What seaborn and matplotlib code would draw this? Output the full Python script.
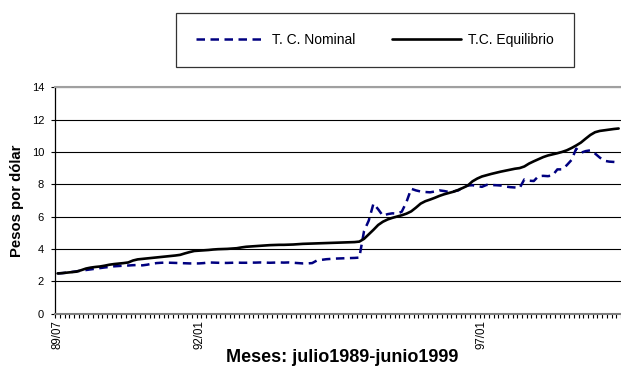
import numpy as np
import pandas as pd
import matplotlib
matplotlib.use("Agg")
import matplotlib.pyplot as plt
import seaborn as sns

# ---- data (monthly, julio 1989 - junio 1999) ----
months = pd.period_range("1989-07", "1999-06", freq="M")
month_labels = [p.strftime("%y/%m") for p in months]
shown_labels = ["89/07", "92/01", "97/01"]

tc_nominal = [
    2.48, 2.50, 2.53, 2.57, 2.61, 2.65, 2.69, 2.73, 2.77, 2.81, 2.85, 2.88,
    2.92, 2.94, 2.96, 2.97, 2.99, 3.00, 2.98, 3.02, 3.08, 3.12, 3.14, 3.15,
    3.14, 3.13, 3.12, 3.11, 3.10, 3.10, 3.10, 3.12, 3.16, 3.15, 3.14, 3.13,
    3.13, 3.14, 3.15, 3.14, 3.14, 3.15, 3.15, 3.16, 3.15, 3.14, 3.15, 3.16,
    3.15, 3.16, 3.14, 3.12, 3.10, 3.10, 3.12, 3.28, 3.32, 3.36, 3.38, 3.40,
    3.41, 3.42, 3.43, 3.44, 3.46, 5.10, 5.75, 6.80, 6.45, 6.05, 6.15, 6.20,
    6.18, 6.30, 6.90, 7.72, 7.62, 7.55, 7.52, 7.50, 7.55, 7.62, 7.58, 7.52,
    7.56, 7.62, 7.82, 7.92, 7.94, 7.88, 7.84, 7.96, 7.95, 7.94, 7.92, 7.86,
    7.82, 7.80, 7.77, 8.30, 8.22, 8.20, 8.50, 8.52, 8.50, 8.55, 8.92, 8.92,
    9.18, 9.50, 10.20, 9.95, 10.05, 10.10, 9.90, 9.65, 9.45, 9.40, 9.38, 9.35,
]
tc_equilibrio = [
    2.48, 2.50, 2.53, 2.56, 2.59, 2.68, 2.78, 2.84, 2.88, 2.91, 2.96, 3.02,
    3.06, 3.09, 3.12, 3.16, 3.28, 3.35, 3.38, 3.41, 3.44, 3.47, 3.50, 3.53,
    3.56, 3.59, 3.63, 3.72, 3.80, 3.87, 3.89, 3.91, 3.93, 3.96, 3.98, 3.99,
    4.00, 4.02, 4.04, 4.09, 4.13, 4.15, 4.17, 4.19, 4.21, 4.23, 4.24, 4.25,
    4.25, 4.26, 4.27, 4.29, 4.31, 4.32, 4.33, 4.34, 4.35, 4.36, 4.37, 4.38,
    4.39, 4.40, 4.41, 4.42, 4.45, 4.62, 4.90, 5.18, 5.48, 5.68, 5.82, 5.92,
    6.00, 6.08, 6.18, 6.32, 6.55, 6.80, 6.95, 7.05, 7.16, 7.28, 7.38, 7.46,
    7.54, 7.65, 7.78, 7.92, 8.18, 8.35, 8.48, 8.56, 8.64, 8.71, 8.78, 8.84,
    8.90, 8.96, 9.00, 9.10, 9.28, 9.42, 9.55, 9.68, 9.78, 9.85, 9.92, 10.00,
    10.10, 10.24, 10.40, 10.58, 10.82, 11.05, 11.22, 11.30, 11.34, 11.38, 11.42, 11.45,
]
series_names = ["T. C. Nominal", "T.C. Equilibrio"]
y_ticks = [0, 2, 4, 6, 8, 10, 12, 14]

df = pd.DataFrame({
    "idx": np.arange(len(months)),
    "mes": month_labels,
    series_names[0]: tc_nominal,
    series_names[1]: tc_equilibrio,
})

# ---- style ----
sns.set_style("white")
plt.rcParams["font.family"] = ["Liberation Sans", "DejaVu Sans"]
plt.rcParams.update({"text.color": "black", "axes.labelcolor": "black",
                     "xtick.color": "black", "ytick.color": "black"})

W, H = 621, 377
fig = plt.figure(figsize=(W / 100, H / 100), dpi=100)

px_per_month = 4.79
x0_px = 57.6
left_px = x0_px - 0.5 * px_per_month
right_px = 621
top_px, bottom_px = 87.3, 313.5
ax = fig.add_axes([left_px / W, (H - bottom_px) / H,
                   (right_px - left_px) / W, (bottom_px - top_px) / H])

sns.lineplot(data=df, x="idx", y=series_names[0], ax=ax, color="#000080",
             linewidth=1.8, legend=False)
sns.lineplot(data=df, x="idx", y=series_names[1], ax=ax, color="black",
             linewidth=1.9, legend=False)
l_nom, l_eq = ax.lines[0], ax.lines[1]
l_nom.set_dashes((3.4, 2.2))

ax.set_xlim(-0.5, (right_px - x0_px) / px_per_month)
ax.set_ylim(0, 14)
ax.set_yticks(y_ticks)
ax.set_yticklabels([str(v) for v in y_ticks], fontsize=8)

label_pos = [month_labels.index(s) for s in shown_labels]
ax.set_xticks(label_pos)
ax.set_xticklabels(shown_labels, rotation=90, fontsize=8.3, va="top")
ax.set_xticks(np.arange(-0.5, len(months), 1), minor=True)
ax.tick_params(axis="x", which="major", length=0, pad=5)
ax.tick_params(axis="x", which="minor", length=3, width=0.8, color="black",
               direction="out", bottom=True)
ax.tick_params(axis="y", length=3, width=0.8, color="black", direction="out",
               left=True, pad=5)

ax.yaxis.grid(True, color="black", linewidth=0.8)
ax.xaxis.grid(False)
ax.set_axisbelow(True)

ax.spines["right"].set_visible(False)
ax.spines["top"].set_color("#a0a0a0")
ax.spines["top"].set_linewidth(1.5)
ax.spines["bottom"].set_color("#808080")
ax.spines["bottom"].set_linewidth(1.5)
ax.spines["left"].set_color("black")
ax.spines["left"].set_linewidth(0.9)

ax.set_xlabel("Meses: julio1989-junio1999", fontsize=13, fontweight="bold")
ax.xaxis.set_label_coords((342 - left_px) / (right_px - left_px),
                          (bottom_px - 358) / (bottom_px - top_px))
ax.xaxis.label.set_va("center")
ax.set_ylabel("Pesos por dólar", fontsize=10.7, fontweight="bold")
ax.yaxis.set_label_coords((17.5 - left_px) / (right_px - left_px), 0.5)
ax.yaxis.label.set_va("center")

leg = fig.legend(handles=[l_nom, l_eq], labels=series_names,
                 loc="center", bbox_to_anchor=(375 / W, 1 - 40 / H),
                 ncol=2, fontsize=10, frameon=True, fancybox=False,
                 edgecolor="black", borderpad=1.45, handlelength=5.0,
                 handletextpad=0.5, columnspacing=2.6)
leg.get_frame().set_linewidth(0.9)
for t in leg.get_texts():
    t.set_color("black")

fig.savefig("out.png", dpi=100)
